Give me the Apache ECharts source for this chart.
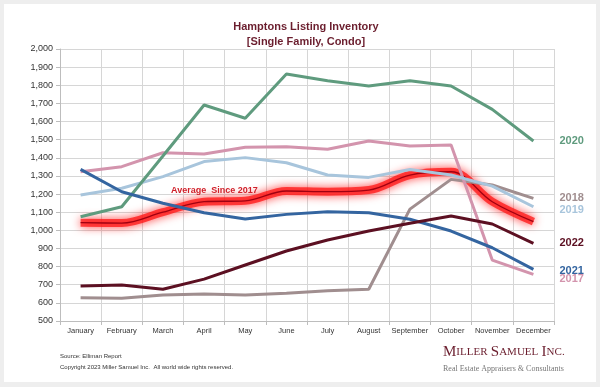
<!DOCTYPE html>
<html>
<head>
<meta charset="utf-8">
<script src="https://cdn.jsdelivr.net/npm/echarts@6/dist/echarts.min.js"></script>
<style>
html,body{margin:0;padding:0;background:#eeeeee;}
#c{width:600px;height:387px;}
</style>
</head>
<body>
<div id="c"></div>
<script>
var months = ['January','February','March','April','May','June','July','August','September','October','November','December'];
var yTicks = {min: 500, max: 2000, step: 100};
var avgSince2017 = [1042, 1040, 1100, 1158, 1163, 1217, 1213, 1222, 1305, 1323, 1158, 1048];
var y2017 = [1323, 1351, 1428, 1421, 1458, 1461, 1447, 1493, 1465, 1470, 836, 757];
var y2018 = [628, 625, 643, 649, 643, 653, 667, 675, 1117, 1281, 1250, 1176];
var y2019 = [1195, 1232, 1296, 1379, 1401, 1373, 1305, 1292, 1336, 1305, 1244, 1130];
var y2020 = [1075, 1130, 1410, 1691, 1618, 1862, 1825, 1796, 1825, 1796, 1667, 1493];
var y2021 = [1336, 1213, 1149, 1097, 1062, 1088, 1103, 1097, 1061, 996, 904, 785];
var y2022 = [693, 698, 675, 731, 809, 886, 947, 996, 1039, 1079, 1035, 928];

var FONT = 'Liberation Sans, Arial, sans-serif';
var chart = echarts.init(document.getElementById('c'), null, {renderer: 'canvas'});

function yearSeries(name, data, color, off) {
  return {
    name: name, type: 'line', data: data, symbol: 'none',
    lineStyle: {color: color, width: 3},
    itemStyle: {color: color},
    endLabel: {show: true, formatter: name, distance: 26, offset: [0, off],
      color: color, fontWeight: 'bold', fontSize: 11, fontFamily: FONT},
    z: 3
  };
}

var option = {
  backgroundColor: '#eeeeee',
  animation: false,
  grid: {left: 60, right: 46, top: 49, bottom: 66, containLabel: false},
  xAxis: {
    type: 'category', data: months, boundaryGap: true,
    axisLine: {lineStyle: {color: '#bdbdbd'}},
    axisTick: {show: true, length: 4, lineStyle: {color: '#bdbdbd'}},
    axisLabel: {interval: 0, fontSize: 7.5, color: '#333', fontFamily: FONT, margin: 6},
    splitLine: {show: true, lineStyle: {color: '#d6d6d6', width: 1}}
  },
  yAxis: {
    type: 'value', min: yTicks.min, max: yTicks.max, interval: yTicks.step,
    axisLine: {show: true, lineStyle: {color: '#bdbdbd'}},
    axisTick: {show: true, length: 4, lineStyle: {color: '#bdbdbd'}},
    axisLabel: {fontSize: 9, color: '#333', fontFamily: FONT, margin: 7,
      formatter: function (v) { return v.toLocaleString('en-US'); }},
    splitLine: {show: true, lineStyle: {color: '#d6d6d6', width: 1}}
  },
  graphic: [
    {type: 'rect', shape: {x: 4, y: 4, width: 592, height: 378}, style: {fill: '#ffffff'}, z: -10, silent: true},
    {type: 'text', x: 306, y: 21, style: {text: 'Hamptons Listing Inventory', textAlign: 'center', fill: '#6b1e2e', font: 'bold 11px ' + FONT}},
    {type: 'text', x: 306, y: 36, style: {text: '[Single Family, Condo]', textAlign: 'center', fill: '#6b1e2e', font: 'bold 11px ' + FONT}},
    {type: 'text', x: 171, y: 186, z: 20, style: {text: 'Average  Since 2017', fill: '#d0202a', font: 'bold 9px ' + FONT}},
    {type: 'text', x: 60, y: 353, style: {text: 'Source: Elliman Report', fill: '#333', font: '6px ' + FONT}},
    {type: 'text', x: 60, y: 364, style: {text: 'Copyright 2023 Miller Samuel Inc.  All world wide rights reserved.', fill: '#333', font: '6px ' + FONT}},
    {type: 'text', x: 443, y: 345, style: {
      text: '{b|M}{s|ILLER} {b|S}{s|AMUEL} {b|I}{s|NC.}',
      fill: '#6b1e2e',
      rich: {
        b: {fontFamily: 'Liberation Serif, serif', fontSize: 15, fill: '#6b1e2e', color: '#6b1e2e'},
        s: {fontFamily: 'Liberation Serif, serif', fontSize: 11, fill: '#6b1e2e', color: '#6b1e2e'}
      }
    }},
    {type: 'text', x: 443, y: 365, style: {text: 'Real Estate Appraisers & Consultants', fill: '#777', font: '8px Liberation Serif, serif'}}
  ],
  series: [
    {
      name: 'glow', type: 'line', data: avgSince2017, symbol: 'none', smooth: 0.35,
      lineStyle: {color: 'rgba(255,20,20,0.75)', width: 8, shadowBlur: 10, shadowColor: 'rgba(255,0,0,1)'},
      z: 2, silent: true
    },
    {
      name: 'Average Since 2017', type: 'line', data: avgSince2017, symbol: 'none', smooth: 0.35,
      lineStyle: {color: '#a00010', width: 1.3},
      z: 2
    },
    yearSeries('2018', y2018, '#a08e8f', 0),
    yearSeries('2017', y2017, '#d394ad', 5),
    yearSeries('2019', y2019, '#a8c5dc', 3),
    yearSeries('2020', y2020, '#5f9b7e', 0),
    yearSeries('2021', y2021, '#3465a0', 2),
    yearSeries('2022', y2022, '#5c1022', 0)
  ]
};
chart.setOption(option);
</script>
</body>
</html>
